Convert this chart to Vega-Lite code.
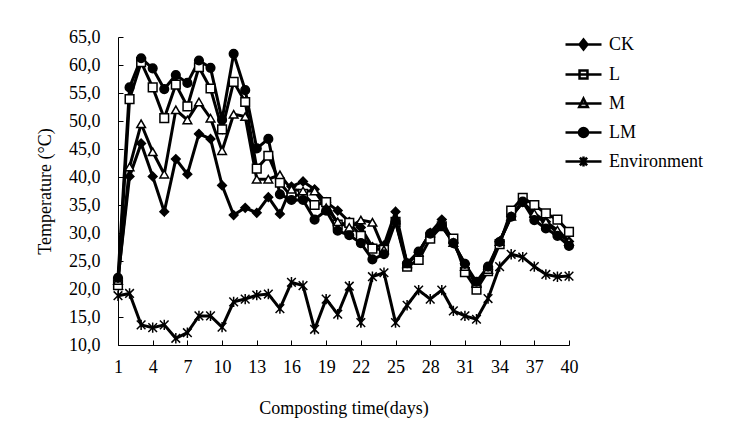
{
  "$schema": "https://vega.github.io/schema/vega-lite/v6.json",
  "width": 451,
  "height": 308,
  "autosize": {"type": "none"},
  "padding": {"left": 118, "top": 37, "right": 182, "bottom": 78},
  "background": "white",
  "config": {
    "view": {"stroke": null},
    "font": "Liberation Serif",
    "axis": {"grid": false, "domainColor": "black", "tickColor": "black", "labelColor": "black", "titleColor": "black", "labelFont": "Liberation Serif", "titleFont": "Liberation Serif", "labelFontSize": 18, "titleFontSize": 18, "titleFontWeight": "normal", "domainWidth": 1, "tickWidth": 1}
  },
  "data": {"values": [
    {"day": 1, "CK": 21.8, "L": 20.7, "M": 21.5, "LM": 22.0, "Environment": 18.8},
    {"day": 2, "CK": 40.1, "L": 53.9, "M": 41.8, "LM": 56.0, "Environment": 19.2},
    {"day": 3, "CK": 46.0, "L": 60.5, "M": 49.5, "LM": 61.2, "Environment": 13.6},
    {"day": 4, "CK": 40.1, "L": 56.0, "M": 44.5, "LM": 59.4, "Environment": 13.1},
    {"day": 5, "CK": 33.8, "L": 50.5, "M": 40.5, "LM": 55.7, "Environment": 13.6},
    {"day": 6, "CK": 43.2, "L": 56.5, "M": 52.0, "LM": 58.2, "Environment": 11.2},
    {"day": 7, "CK": 40.5, "L": 52.6, "M": 50.2, "LM": 56.8, "Environment": 12.2},
    {"day": 8, "CK": 47.7, "L": 59.6, "M": 53.4, "LM": 60.8, "Environment": 15.2},
    {"day": 9, "CK": 46.8, "L": 55.8, "M": 50.5, "LM": 59.5, "Environment": 15.2},
    {"day": 10, "CK": 38.5, "L": 48.5, "M": 44.7, "LM": 50.2, "Environment": 13.2},
    {"day": 11, "CK": 33.2, "L": 57.0, "M": 51.2, "LM": 62.0, "Environment": 17.7},
    {"day": 12, "CK": 34.5, "L": 53.4, "M": 50.8, "LM": 55.5, "Environment": 18.2},
    {"day": 13, "CK": 33.6, "L": 41.5, "M": 39.6, "LM": 45.1, "Environment": 18.9},
    {"day": 14, "CK": 36.4, "L": 43.8, "M": 39.6, "LM": 46.8, "Environment": 19.1},
    {"day": 15, "CK": 33.4, "L": 39.0, "M": 40.4, "LM": 36.9, "Environment": 16.5},
    {"day": 16, "CK": 38.3, "L": 36.5, "M": 37.8, "LM": 35.9, "Environment": 21.2},
    {"day": 17, "CK": 39.2, "L": 37.0, "M": 37.5, "LM": 35.9, "Environment": 20.6},
    {"day": 18, "CK": 37.8, "L": 35.0, "M": 37.5, "LM": 32.4, "Environment": 12.8},
    {"day": 19, "CK": 35.5, "L": 35.5, "M": 34.5, "LM": 34.0, "Environment": 18.2},
    {"day": 20, "CK": 34.0, "L": 31.5, "M": 32.0, "LM": 30.4, "Environment": 15.5},
    {"day": 21, "CK": 32.0, "L": 31.8, "M": 31.0, "LM": 29.6, "Environment": 20.5},
    {"day": 22, "CK": 31.0, "L": 29.5, "M": 32.3, "LM": 28.2, "Environment": 14.0},
    {"day": 23, "CK": 27.5, "L": 27.2, "M": 31.9, "LM": 25.3, "Environment": 22.2},
    {"day": 24, "CK": 27.8, "L": 27.0, "M": 27.0, "LM": 26.2, "Environment": 22.9},
    {"day": 25, "CK": 33.8, "L": 32.0, "M": 32.3, "LM": 32.0, "Environment": 14.0},
    {"day": 26, "CK": 24.5, "L": 24.0, "M": 24.5, "LM": 24.6, "Environment": 17.1},
    {"day": 27, "CK": 26.5, "L": 25.2, "M": 26.5, "LM": 26.7, "Environment": 19.8},
    {"day": 28, "CK": 30.0, "L": 29.0, "M": 30.0, "LM": 29.9, "Environment": 18.2},
    {"day": 29, "CK": 32.4, "L": 31.2, "M": 31.2, "LM": 31.3, "Environment": 19.8},
    {"day": 30, "CK": 28.2, "L": 29.0, "M": 28.3, "LM": 28.2, "Environment": 16.1},
    {"day": 31, "CK": 24.5, "L": 23.0, "M": 24.0, "LM": 24.5, "Environment": 15.2},
    {"day": 32, "CK": 20.5, "L": 19.9, "M": 21.0, "LM": 21.3, "Environment": 14.6},
    {"day": 33, "CK": 23.5, "L": 23.2, "M": 23.5, "LM": 24.0, "Environment": 18.3},
    {"day": 34, "CK": 28.5, "L": 28.0, "M": 28.5, "LM": 28.4, "Environment": 24.0},
    {"day": 35, "CK": 33.0, "L": 34.0, "M": 33.0, "LM": 32.9, "Environment": 26.2},
    {"day": 36, "CK": 35.5, "L": 36.3, "M": 35.5, "LM": 35.6, "Environment": 25.7},
    {"day": 37, "CK": 33.0, "L": 35.0, "M": 33.5, "LM": 32.3, "Environment": 24.0},
    {"day": 38, "CK": 32.0, "L": 33.5, "M": 32.0, "LM": 30.8, "Environment": 22.6},
    {"day": 39, "CK": 30.0, "L": 32.4, "M": 30.5, "LM": 29.5, "Environment": 22.2},
    {"day": 40, "CK": 28.5, "L": 30.2, "M": 28.5, "LM": 27.7, "Environment": 22.3}
  ]},
  "transform": [{"fold": ["CK", "L", "M", "LM", "Environment"], "as": ["series", "temp"]}],
  "encoding": {
    "x": {"field": "day", "type": "quantitative",
      "scale": {"domain": [1, 40], "nice": false, "zero": false},
      "axis": {"values": [1, 4, 7, 10, 13, 16, 19, 22, 25, 28, 31, 34, 37, 40], "title": "Composting time(days)", "tickSize": -5, "labelPadding": 18, "titlePadding": 23, "labelFlush": false}},
    "y": {"field": "temp", "type": "quantitative",
      "scale": {"domain": [10, 65], "nice": false, "zero": false},
      "axis": {"values": [10, 15, 20, 25, 30, 35, 40, 45, 50, 55, 60, 65], "labelExpr": "replace(format(datum.value, '.1f'), '.', ',')", "title": "Temperature (°C)", "tickSize": -5, "labelPadding": 23, "titlePadding": 14}}
  },
  "layer": [
    {"mark": {"type": "line", "color": "black", "strokeWidth": 3},
     "encoding": {"detail": {"field": "series"}}},
    {"mark": {"type": "point", "filled": false, "stroke": "black", "strokeWidth": 1.5, "size": 75, "opacity": 1},
     "encoding": {
       "shape": {"field": "series", "type": "nominal",
         "scale": {"domain": ["CK", "L", "M", "LM", "Environment"], "range": ["diamond", "square", "triangle-up", "circle", "M-1,-1L1,1M-1,1L1,-1M0,-1.2L0,1.2"]},
         "legend": null},
       "fill": {"field": "series", "type": "nominal",
         "scale": {"domain": ["CK", "L", "M", "LM", "Environment"], "range": ["black", "white", "white", "black", "black"]},
         "legend": null}
     }},
    {"transform": [{"filter": {"field": "day", "gt": 100}}],
     "mark": {"type": "point", "filled": false, "stroke": "black", "strokeWidth": 2.5, "opacity": 1},
     "encoding": {
       "shape": {"field": "series", "type": "nominal",
         "scale": {"domain": ["CK", "L", "M", "LM", "Environment"], "range": ["M-1,0H1M0,-0.28L0.22,0L0,0.28L-0.22,0ZM0,-0.17L0.13,0L0,0.17L-0.13,0ZM0,-0.07L0.05,0L0,0.07L-0.05,0Z", "M-1,0H1M-0.22,-0.22H0.22V0.22H-0.22Z", "M-1,0H1M0,-0.28L0.24,0.2L-0.24,0.2Z", "M-1,0H1M0.25,0A0.25,0.25 0 1 1 -0.25,0A0.25,0.25 0 1 1 0.25,0ZM0.15,0A0.15,0.15 0 1 1 -0.15,0A0.15,0.15 0 1 1 0.15,0ZM0.06,0A0.06,0.06 0 1 1 -0.06,0A0.06,0.06 0 1 1 0.06,0Z", "M-1,0H1M-0.2,-0.22L0.2,0.22M-0.2,0.22L0.2,-0.22M0,-0.28L0,0.28"]},
         "legend": {"title": null, "orient": "none", "legendX": 446, "legendY": -12, "padding": 0, "symbolSize": 1296, "symbolOpacity": 1, "symbolStrokeColor": "black", "symbolStrokeWidth": 2.5, "labelFontSize": 18, "labelFont": "Liberation Serif", "labelColor": "black", "labelOffset": 6, "rowPadding": -1.5,
           "encode": {"symbols": {"update": {
             "stroke": {"value": "black"},
             "strokeWidth": {"value": 2.5},
             "opacity": {"value": 1}
           }}}}}
     }}
  ],
  "resolve": {"scale": {"shape": "independent", "fill": "independent"}}
}
